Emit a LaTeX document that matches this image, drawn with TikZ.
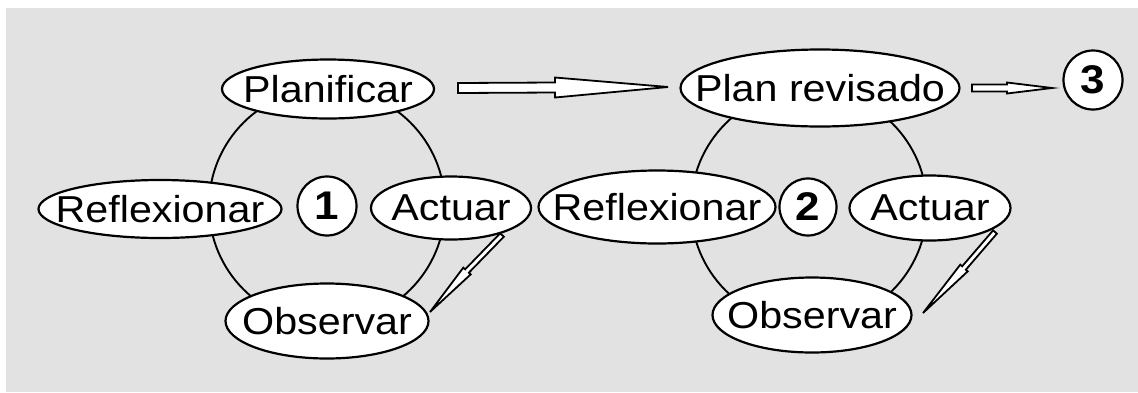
\documentclass[tikz,border=0pt]{standalone}
\usepackage{fontspec}
\setmainfont{Liberation Sans}[FakeStretch=1.1]
\usetikzlibrary{shapes.geometric,calc}
\definecolor{panelgrey}{HTML}{E2E2E2}
\tikzset{
    stage/.style = {ellipse, draw, line width=2.2pt, fill=white, inner sep=0pt},
    cyclenum/.style = {circle, draw, line width=2.2pt, fill=white, inner sep=0pt, minimum size=59pt, font=\fontsize{40}{44}\selectfont\bfseries},
    loopring/.style = {circle, draw, line width=1.9pt, minimum size=236pt},
    hollow/.style = {draw, line width=1.8pt, fill=white, line join=miter}
}
\newcommand{\hollowarrow}[5]{%
    \draw[hollow] ($(#1)!#4!90:(#3)$) -- ($(#2)!#4!90:(#3)$) -- ($(#2)!#5!90:(#3)$) -- (#3)
        -- ($(#2)!#5!-90:(#3)$) -- ($(#2)!#4!-90:(#3)$) -- ($(#1)!#4!-90:(#3)$) -- cycle;}

\begin{document}
\begin{tikzpicture}[x=1pt, y=-1pt, font=\fontsize{37.5}{42}\selectfont]
    \useasboundingbox (0,0) rectangle (1138,392);
    \fill[panelgrey] (6,8) rectangle (1138,392);

    % first cycle
    \node[loopring] (loop1) at (327,206) {};
    \node[stage, minimum width=212pt, minimum height=59pt, label=center:Planificar] (plan1) at (328,89) {};
    \node[stage, minimum width=243pt, minimum height=58pt, label=center:Reflexionar] (refl1) at (160,209) {};
    \node[cyclenum] (num1) at (327,206) {1};
    \node[stage, minimum width=160pt, minimum height=63pt, label=center:Actuar] (act1) at (451,208) {};
    \node[stage, minimum width=203pt, minimum height=75pt, label=center:Observar] (obs1) at (327,321) {};

    % second cycle
    \node[loopring] (loop2) at (809,207) {};
    \node[stage, minimum width=279pt, minimum height=77pt, label=center:Plan revisado] (plan2) at (820,88) {};
    \node[stage, minimum width=237pt, minimum height=73pt, label=center:Reflexionar] (refl2) at (657,207) {};
    \node[cyclenum, minimum size=57pt] (num2) at (808,207) {2};
    \node[stage, minimum width=161pt, minimum height=65pt, label=center:Actuar] (act2) at (930,208) {};
    \node[stage, minimum width=199pt, minimum height=75pt, label=center:Observar] (obs2) at (812,315) {};

    \node[cyclenum] (num3) at (1093,80) {3};

    % arrows
    \coordinate (bigS) at (458,88);
    \coordinate (bigN) at (555,87.5);
    \coordinate (bigT) at (668,87);
    \hollowarrow{bigS}{bigN}{bigT}{5pt}{10pt}

    \coordinate (nextS) at (972,88);
    \coordinate (nextN) at (1007,88);
    \coordinate (nextT) at (1052,88);
    \hollowarrow{nextS}{nextN}{nextT}{3.5pt}{5.5pt}

    \coordinate (obsS1) at (502,235);
    \coordinate (obsN1) at (467,271);
    \coordinate (obsT1) at (430,312);
    \hollowarrow{obsS1}{obsN1}{obsT1}{2.5pt}{5pt}

    \coordinate (obsS2) at (995,232);
    \coordinate (obsN2) at (964,268);
    \coordinate (obsT2) at (923,313);
    \hollowarrow{obsS2}{obsN2}{obsT2}{2.5pt}{5pt}
\end{tikzpicture}
\end{document}
